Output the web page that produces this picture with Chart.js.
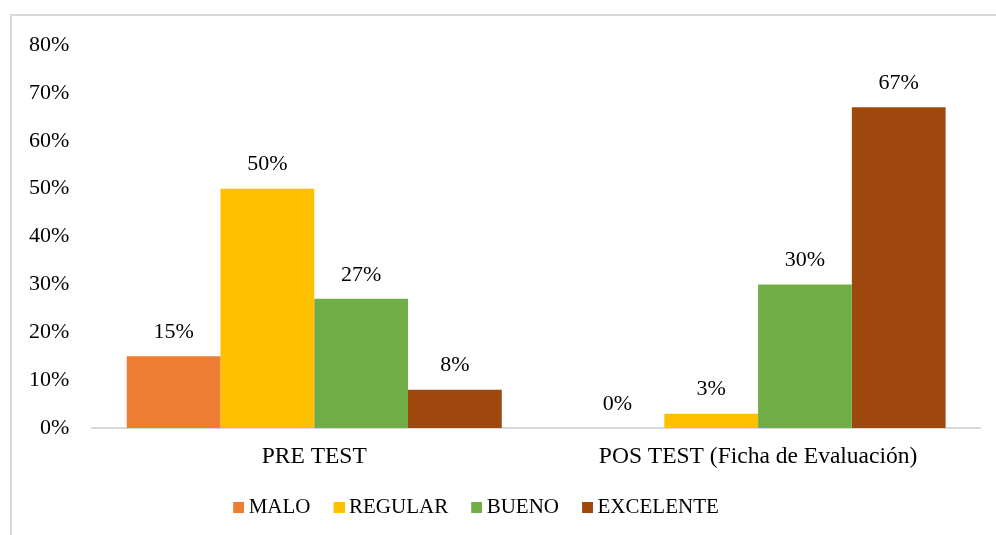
<!DOCTYPE html>
<html>
<head>
<meta charset="utf-8">
<script src="https://cdn.jsdelivr.net/npm/chart.js@4"></script>
<style>
  body { margin: 0; background: #fff; overflow: hidden; }
  #frame { position: absolute; left: 10px; top: 14px; width: 1000px; height: 530px; border: 2px solid #d9d9d9; }
  #wrap { position: absolute; left: 0; top: 0; width: 996px; height: 535px; }
</style>
</head>
<body>
<div id="frame"></div>
<div id="wrap"><canvas id="chart" width="996" height="535"></canvas></div>
<script>
// Categories and series (percent values)
const categories = ['PRE TEST', 'POS TEST (Ficha de Evaluación)'];
const malo = [15, 0];
const regular = [50, 3];
const bueno = [27, 30];
const excelente = [8, 67];
const yTicks = [0, 10, 20, 30, 40, 50, 60, 70, 80];

const fontFamily = '"Liberation Serif", "Times New Roman", serif';

// small square legend marker, sitting close to its text
function swatch(color) {
    const c = document.createElement('canvas');
    c.width = 13;
    c.height = 11;
    const g = c.getContext('2d');
    g.fillStyle = color;
    g.fillRect(2, 0, 11, 11);
    return c;
}

// Draw value labels above each bar
const valueLabels = {
    id: 'valueLabels',
    afterLayout(chart) {
        // Excel centres the legend a little left of the canvas centre
        chart.legend.right -= 30;
    },
    afterDatasetsDraw(chart) {
        const ctx = chart.ctx;
        ctx.save();
        ctx.font = '22px ' + fontFamily;
        ctx.fillStyle = '#000';
        ctx.textAlign = 'center';
        ctx.textBaseline = 'middle';
        chart.data.datasets.forEach((ds, i) => {
            chart.getDatasetMeta(i).data.forEach((bar, j) => {
                ctx.fillText(ds.data[j] + '%', bar.x, bar.y - 24);
            });
        });
        ctx.restore();
    }
};

const colors = ['#ED7D31', '#FFC000', '#70AD47', '#9E480E'];

new Chart(document.getElementById('chart').getContext('2d'), {
    type: 'bar',
    data: {
        labels: categories,
        datasets: [
            { label: 'MALO', data: malo, backgroundColor: colors[0], pointStyle: swatch(colors[0]) },
            { label: 'REGULAR', data: regular, backgroundColor: colors[1], pointStyle: swatch(colors[1]) },
            { label: 'BUENO', data: bueno, backgroundColor: colors[2], pointStyle: swatch(colors[2]) },
            { label: 'EXCELENTE', data: excelente, backgroundColor: colors[3], pointStyle: swatch(colors[3]) }
        ]
    },
    options: {
        responsive: false,
        animation: false,
        layout: { padding: { top: 45, right: 16, bottom: 7.5, left: 6 } },
        datasets: { bar: { categoryPercentage: 0.845, barPercentage: 1 } },
        plugins: {
            legend: {
                position: 'bottom',
                labels: {
                    usePointStyle: true,
                    boxWidth: 1,
                    boxHeight: 11,
                    padding: 27,
                    color: '#000',
                    font: { family: fontFamily, size: 21 }
                }
            },
            tooltip: { enabled: false }
        },
        scales: {
            x: {
                grid: { display: false, drawTicks: false },
                border: { color: '#d9d9d9', width: 2 },
                ticks: { color: '#000', padding: 15, font: { family: fontFamily, size: 23.5 } },
                afterFit: (scale) => { scale.height = 41.5; }
            },
            y: {
                min: 0,
                max: 80,
                afterBuildTicks: (axis) => { axis.ticks = yTicks.map(v => ({ value: v })); },
                grid: { display: false, drawTicks: false },
                border: { display: false },
                ticks: {
                    color: '#000',
                    padding: 23,
                    font: { family: fontFamily, size: 22 },
                    callback: (v) => v + '%'
                }
            }
        }
    },
    plugins: [valueLabels]
});
</script>
</body>
</html>
